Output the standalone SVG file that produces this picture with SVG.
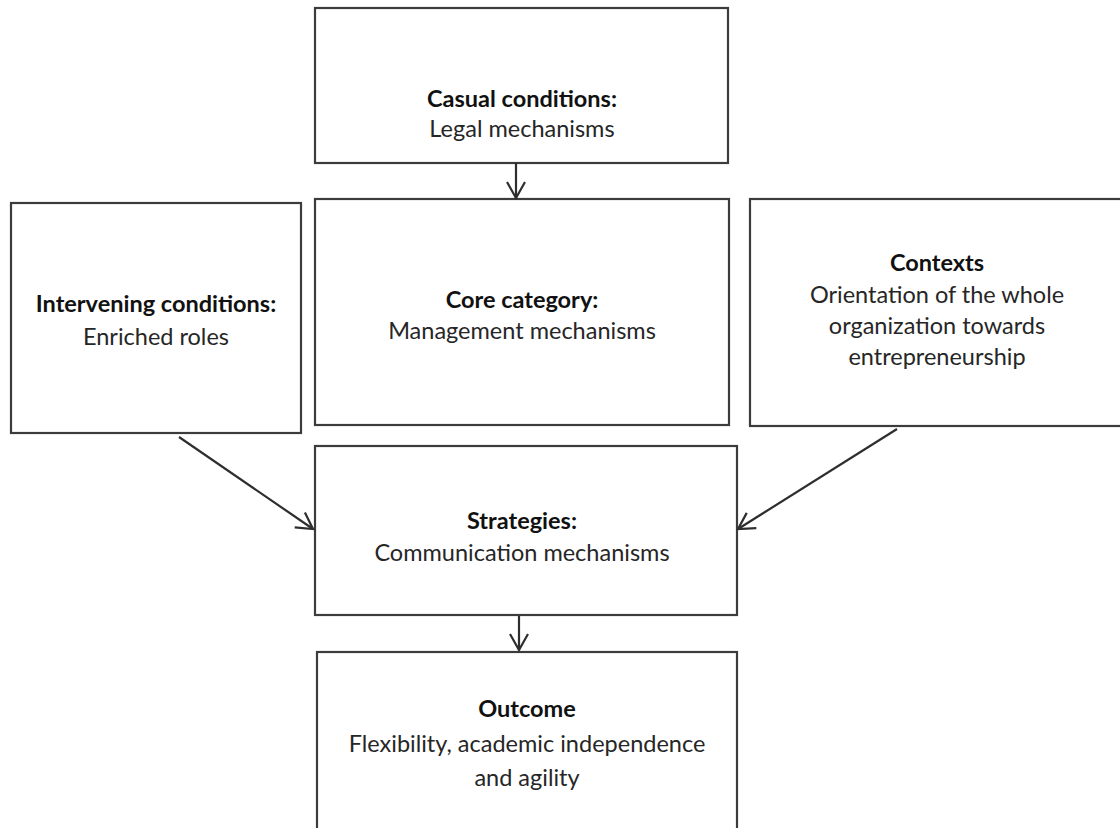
<svg xmlns="http://www.w3.org/2000/svg" width="1120" height="828" viewBox="0 0 1120 828">
<style>
.box{fill:#ffffff;stroke:#3c3c3c;stroke-width:2.2}
.t{font-family:Lato,"Liberation Sans",sans-serif;font-size:23.5px;fill:#262626;text-anchor:middle}
.b{font-weight:bold;fill:#111}
.c{fill:none;stroke:#2e2e2e;stroke-width:2.2}
</style>
<defs>
<marker id="arr" markerUnits="userSpaceOnUse" markerWidth="22" markerHeight="22" viewBox="0 0 22 22" refX="20" refY="11" orient="auto">
<path d="M4,2 L20,11 L4,20" fill="none" stroke="#2e2e2e" stroke-width="2.2"/>
</marker>
</defs>
<rect width="1120" height="828" fill="#ffffff"/>
<g id="casual">
<rect class="box" x="315" y="8" width="413" height="155"/>
<text class="t b" x="522" y="107">Casual conditions:</text>
<text class="t" x="522" y="137">Legal mechanisms</text>
</g>
<g id="intervening">
<rect class="box" x="11" y="203" width="290" height="230"/>
<text class="t b" x="156" y="312">Intervening conditions:</text>
<text class="t" x="156" y="345">Enriched roles</text>
</g>
<g id="core">
<rect class="box" x="315" y="199" width="414" height="226"/>
<text class="t b" x="522" y="308">Core category:</text>
<text class="t" x="522" y="339">Management mechanisms</text>
</g>
<g id="contexts">
<rect class="box" x="750" y="199" width="380" height="227"/>
<text class="t b" x="937" y="271">Contexts</text>
<text class="t" x="937" y="303">Orientation of the whole</text>
<text class="t" x="937" y="334">organization towards</text>
<text class="t" x="937" y="365">entrepreneurship</text>
</g>
<g id="strategies">
<rect class="box" x="315" y="446" width="422" height="169"/>
<text class="t b" x="522" y="529">Strategies:</text>
<text class="t" x="522" y="561">Communication mechanisms</text>
</g>
<g id="outcome">
<rect class="box" x="317" y="652" width="420" height="190"/>
<text class="t b" x="527" y="717">Outcome</text>
<text class="t" x="527" y="752">Flexibility, academic independence</text>
<text class="t" x="527" y="786">and agility</text>
</g>
<g id="connectors">
<path class="c" d="M516,163 L516,198" marker-end="url(#arr)"/>
<path class="c" d="M179,437 L313,529" marker-end="url(#arr)"/>
<path class="c" d="M897,429 L738,529" marker-end="url(#arr)"/>
<path class="c" d="M519,616 L519,650" marker-end="url(#arr)"/>
</g>
</svg>
